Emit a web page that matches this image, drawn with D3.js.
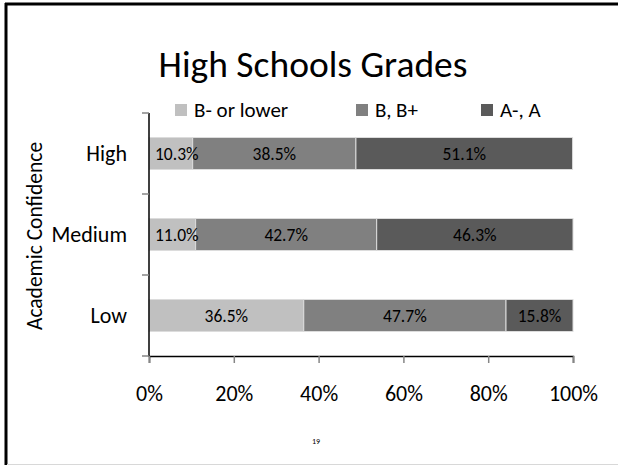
<!DOCTYPE html>
<html>
<head>
<meta charset="utf-8">
<script src="https://cdn.jsdelivr.net/npm/d3@7"></script>
<style>
  html, body { margin: 0; padding: 0; background: #fff; }
  svg { display: block; font-family: Carlito, Calibri, Lato, "Open Sans", sans-serif; }
</style>
</head>
<body>
<svg id="chart" width="618" height="465"></svg>
<script>
// Academic confidence groups, top to bottom
const categories = ["High", "Medium", "Low"];
// Grade bands (stack order, left to right)
const seriesNames = ["B- or lower", "B, B+", "A-, A"];
// Share of students in each grade band, per confidence group (%)
const lowerGrades = [10.3, 11.0, 36.5];
const bGrades = [38.5, 42.7, 47.7];
const aGrades = [51.1, 46.3, 15.8];
const tickLabels = ["0%", "20%", "40%", "60%", "80%", "100%"];
const colors = ["#c0c0c0", "#808080", "#5a5a5a"];

const rows = categories.map((c, i) => ({
  cat: c,
  "B- or lower": lowerGrades[i],
  "B, B+": bGrades[i],
  "A-, A": aGrades[i]
}));

const svg = d3.select("#chart");

// slide frame
svg.append("line").attr("x1", 5).attr("x2", 618).attr("y1", 4).attr("y2", 4)
  .attr("stroke", "#000").attr("stroke-width", 3);
svg.append("line").attr("x1", 6).attr("x2", 6).attr("y1", 3).attr("y2", 465)
  .attr("stroke", "#000").attr("stroke-width", 3);
svg.append("line").attr("x1", 7).attr("x2", 618).attr("y1", 464.5).attr("y2", 464.5)
  .attr("stroke", "#d8d8d8").attr("stroke-width", 1);

const x = d3.scaleLinear().domain([0, 100]).range([149, 573]);
const y = d3.scaleBand().domain(categories).range([113, 356])
  .paddingInner(0.605).paddingOuter(0.3025);

// title
svg.append("text").attr("x", 313).attr("y", 77).attr("text-anchor", "middle")
  .attr("font-size", 37.5).attr("fill", "#000").text("High Schools Grades");

// legend
const legendX = [175, 356, 481];
const legend = svg.append("g");
seriesNames.forEach((s, i) => {
  legend.append("rect").attr("x", legendX[i]).attr("y", 104)
    .attr("width", 12).attr("height", 12).attr("fill", colors[i]);
  legend.append("text").attr("x", legendX[i] + 19).attr("y", 117)
    .attr("font-size", 21).attr("fill", "#000").text(s);
});

// stacked bars
const stack = d3.stack().keys(seriesNames)(rows);
const barG = svg.append("g");
stack.forEach((layer, si) => {
  barG.selectAll(null).data(layer).enter().append("rect")
    .attr("x", d => x(d[0]))
    .attr("y", d => y(d.data.cat))
    .attr("width", d => x(d[1]) - x(d[0]))
    .attr("height", y.bandwidth())
    .attr("fill", colors[si])
    .attr("stroke", "#dcdcdc")
    .attr("stroke-width", 1);
});

// data labels, kept inside the plot area
const labelSize = 17.5;
const fmt = v => v.toFixed(1) + "%";
stack.forEach(layer => {
  barG.selectAll(null).data(layer).enter().append("text")
    .attr("font-size", labelSize)
    .attr("fill", "#000")
    .attr("text-anchor", "middle")
    .attr("y", d => y(d.data.cat) + y.bandwidth() / 2 + 6.5)
    .text(d => fmt(d[1] - d[0]))
    .attr("x", function (d) {
      const w = this.getComputedTextLength();
      const c = x((d[0] + d[1]) / 2);
      return Math.min(Math.max(c, x(0) + 6 + w / 2), x(100) - 4 - w / 2);
    });
});

// y axis: line, boundary ticks, category labels
const yAxis = svg.append("g");
yAxis.append("line").attr("x1", 149).attr("x2", 149)
  .attr("y1", y.range()[0]).attr("y2", y.range()[1]).attr("stroke", "#000").attr("stroke-width", 1.5);
const bnd = [y.range()[0]].concat(
  categories.slice(1).map(c => y(c) - (y.step() - y.bandwidth()) / 2),
  [y.range()[1]]);
yAxis.selectAll(null).data(bnd).enter().append("line")
  .attr("x1", 142).attr("x2", 149).attr("y1", d => d).attr("y2", d => d)
  .attr("stroke", "#868686").attr("stroke-width", 1.5);
yAxis.selectAll(null).data(categories).enter().append("text")
  .attr("x", 127).attr("y", d => y(d) + y.bandwidth() / 2 + 7.5)
  .attr("text-anchor", "end").attr("font-size", 22).attr("fill", "#000").text(d => d);

// axis title
svg.append("text").attr("transform", "translate(42,236) rotate(-90)")
  .attr("text-anchor", "middle").attr("font-size", 21.5).attr("fill", "#000")
  .text("Academic Confidence");

// x axis
const xAxis = svg.append("g").attr("transform", "translate(0,356)")
  .call(d3.axisBottom(x).tickValues([0, 20, 40, 60, 80, 100])
    .tickFormat((d, i) => tickLabels[i]).tickSize(7).tickPadding(22));
xAxis.select(".domain").attr("stroke", "#000").attr("stroke-width", 1.5);
xAxis.selectAll(".tick line").attr("stroke", "#868686").attr("stroke-width", 1.5);
xAxis.selectAll(".tick text").attr("font-size", 22).attr("fill", "#000")
  .attr("font-family", "Carlito, Calibri, Lato, 'Open Sans', sans-serif");

// slide number
svg.append("text").attr("x", 316).attr("y", 444).attr("text-anchor", "middle")
  .attr("font-size", 8).attr("fill", "#000").text("19");
</script>
</body>
</html>
